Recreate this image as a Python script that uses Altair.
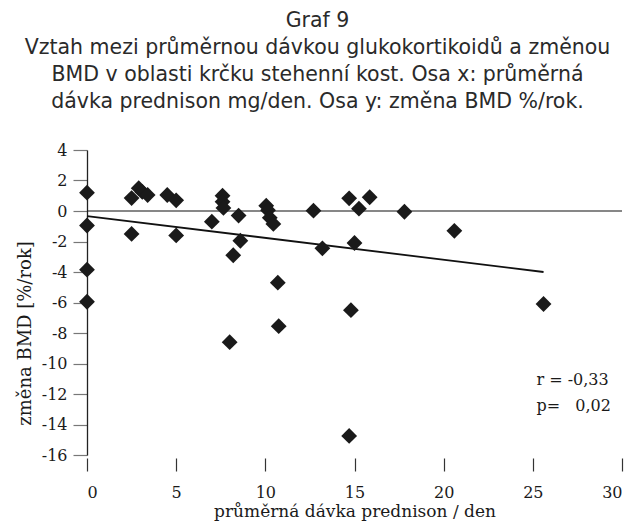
import altair as alt
import pandas as pd

# --- data ---
dose = [0, 0, 0, 0,
        2.5, 2.5, 2.9, 3.1, 3.4,
        4.5, 5.0, 5.0,
        7.0, 7.6, 7.6, 7.65,
        8.0, 8.2, 8.5, 8.6,
        10.05, 10.15, 10.25, 10.45,
        10.7, 10.75,
        12.7, 13.2,
        14.7, 14.7, 14.8, 15.0, 15.25, 15.85,
        17.8, 20.6, 25.6]
bmd = [1.2, -0.95, -3.85, -5.95,
       0.85, -1.5, 1.5, 1.25, 1.05,
       1.05, 0.7, -1.6,
       -0.7, 1.0, 0.6, 0.2,
       -8.6, -2.9, -0.3, -1.95,
       0.35, 0.05, -0.45, -0.85,
       -4.7, -7.55,
       0.02, -2.45,
       0.83, -14.75, -6.5, -2.1, 0.15, 0.9,
       -0.05, -1.3, -6.1]

trend_x = [0, 25.6]
trend_y = [-0.33, -4.0]

ann_text = ["r = -0,33", "p=\u00a0\u00a0\u00a00,02"]
ann_x = [25.2, 25.2]
ann_y = [-11.1, -12.8]

x_ticks = [0, 5, 10, 15, 20, 25, 30]
y_ticks = [4, 2, 0, -2, -4, -6, -8, -10, -12, -14, -16]

title_lines = [
    "Graf 9",
    "Vztah mezi průměrnou dávkou glukokortikoidů a změnou",
    "BMD v oblasti krčku stehenní kost. Osa x: průměrná",
    "dávka prednison mg/den. Osa y: změna BMD %/rok.",
]
x_title = "průměrná dávka prednison / den"
y_title = "změna BMD [%/rok]"

SERIF = "DejaVu Serif"
SANS = "DejaVu Sans"
INK = "#1a1a1a"

pts = pd.DataFrame({"dose": dose, "bmd": bmd})
trend = pd.DataFrame({"x": trend_x, "y": trend_y})
ann = pd.DataFrame({"x": ann_x, "y": ann_y, "t": ann_text})
zero = pd.DataFrame({"y": [0]})

xs = alt.Scale(domain=[0, 30], nice=False, zero=False)
ys = alt.Scale(domain=[-16, 4], nice=False, zero=False)

x_axis = alt.Axis(values=x_ticks, tickCount=20, title=x_title, domain=False, grid=False,
                  tickSize=13, offset=3, tickColor="#333", tickWidth=1.2,
                  labelFont=SERIF, labelFontSize=16, labelColor=INK, labelPadding=13,
                  labelExpr="toString(datum.value)",
                  titleFont=SERIF, titleFontSize=17, titleFontWeight="normal",
                  titleColor=INK, titlePadding=3)
y_axis = alt.Axis(values=y_ticks, tickCount=20, title=y_title, domain=True,
                  domainColor="#222", domainWidth=1.3, grid=False, tickSize=14,
                  tickColor="#777", tickWidth=1.2, labelFont=SERIF, labelFontSize=16,
                  labelColor=INK, labelPadding=6, labelOverlap=False,
                  labelExpr="toString(datum.value)",
                  titleFont=SERIF, titleFontSize=18, titleY=183,
                  titleFontWeight="normal", titleColor=INK, titlePadding=7)

base_pts = alt.Chart(pts).mark_point(shape="diamond", filled=True, size=250,
                                     color=INK, opacity=1).encode(
    x=alt.X("dose:Q", scale=xs, axis=x_axis),
    y=alt.Y("bmd:Q", scale=ys, axis=y_axis),
)

zero_line = alt.Chart(zero).mark_rule(color="#111", strokeWidth=1.2).encode(
    y=alt.Y("y:Q", scale=ys)
)

trend_line = alt.Chart(trend).mark_line(color="#111", strokeWidth=1.8).encode(
    x=alt.X("x:Q", scale=xs), y=alt.Y("y:Q", scale=ys)
)

ann_text_mark = alt.Chart(ann).mark_text(align="left", baseline="middle", font=SERIF,
                                         fontSize=16, color=INK).encode(
    x=alt.X("x:Q", scale=xs), y=alt.Y("y:Q", scale=ys), text="t:N"
)

chart = alt.layer(zero_line, trend_line, base_pts, ann_text_mark).properties(
    width=535, height=305,
    title=alt.TitleParams(text=title_lines, anchor="middle", frame="group", dx=-37,
                          font=SANS, fontSize=20.5, fontWeight="normal", color="#2a2a2a",
                          lineHeight=27, offset=30),
    autosize=alt.AutoSizeParams(type="none"),
    padding={"left": 87, "top": 150, "right": 13, "bottom": 71},
).configure_view(stroke=None)

chart.save("out.html", embed_options={"renderer": "svg", "actions": False})
